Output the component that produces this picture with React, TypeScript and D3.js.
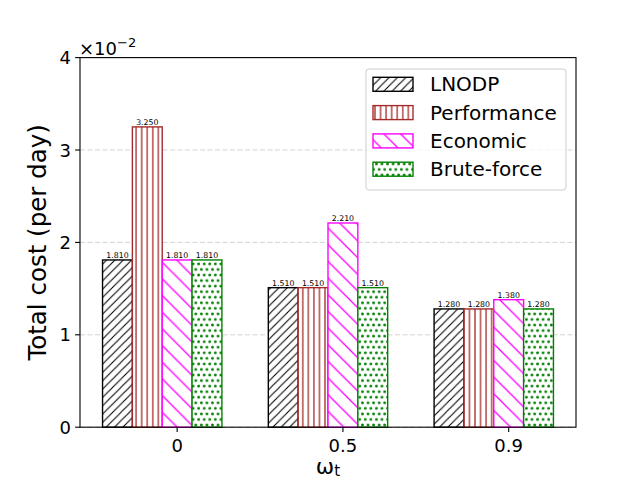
import { useEffect } from "react";
import * as d3 from "d3";

// omega_t settings, costs per day (plotted in units of 1e-2)
const groups = ["0", "0.5", "0.9"];
const seriesNames = ["LNODP", "Performance", "Economic", "Brute-force"];
const lnodp = [0.0181, 0.0151, 0.0128];
const performance = [0.0325, 0.0151, 0.0128];
const economic = [0.0181, 0.0221, 0.0138];
const bruteForce = [0.0181, 0.0151, 0.0128];
const yTicks = [0, 0.01, 0.02, 0.03, 0.04];

const seriesValues = [lnodp, performance, economic, bruteForce];
const colors = ["#000000", "#a52a2a", "#ff00ff", "#008000"];
const patternIds = ["hatch-lnodp", "hatch-perf", "hatch-eco", "hatch-brute"];

const W = 640;
const H = 480;
const margin = { left: 80, right: 64, top: 57.6, bottom: 52.8 };
const barW = 0.18;
const font = "DejaVu Sans, sans-serif";

// diagonal hatch tile paths (screen coords, y down)
const slash = (s: number) => `M0,${s} L${s},0 M-2,2 L2,-2 M${s - 2},${s + 2} L${s + 2},${s - 2}`;
const backslash = (s: number) => `M0,0 L${s},${s} M-2,${s - 2} L2,${s + 2} M${s - 2},-2 L${s + 2},2`;

function Patterns() {
  const s1 = 100 / 12; // '//'
  const s2 = 100 / 6; // '\'
  const s3 = 100 / 18; // '|||' and '...'
  return (
    <defs>
      <pattern id="hatch-lnodp" patternUnits="userSpaceOnUse" width={s1} height={s1}>
        <rect width={s1} height={s1} fill="#fff" />
        <path d={slash(s1)} stroke={colors[0]} strokeWidth={1.1} fill="none" />
      </pattern>
      <pattern id="hatch-perf" patternUnits="userSpaceOnUse" width={s3} height={s3}>
        <rect width={s3} height={s3} fill="#fff" />
        <line x1={s3 / 2} y1={0} x2={s3 / 2} y2={s3} stroke={colors[1]} strokeWidth={1.3} />
      </pattern>
      <pattern id="hatch-eco" patternUnits="userSpaceOnUse" width={s2} height={s2}>
        <rect width={s2} height={s2} fill="#fff" />
        <path d={backslash(s2)} stroke={colors[2]} strokeWidth={1.3} fill="none" />
      </pattern>
      <pattern id="hatch-brute" patternUnits="userSpaceOnUse" width={s3} height={s3 * 2}>
        <rect width={s3} height={s3 * 2} fill="#fff" />
        <circle cx={s3 / 4} cy={s3 / 2} r={1.4} fill={colors[3]} />
        <circle cx={(s3 * 3) / 4} cy={(s3 * 3) / 2} r={1.4} fill={colors[3]} />
      </pattern>
    </defs>
  );
}

export default function App() {
  useEffect(() => {
    document.body.style.margin = "0";
  }, []);

  const innerRight = W - margin.right;
  const innerBottom = H - margin.bottom;

  const lo = -2.5 * barW;
  const hi = groups.length - 1 + 1.5 * barW;
  const pad = (hi - lo) * 0.05;
  const x = d3.scaleLinear().domain([lo - pad, hi + pad]).range([margin.left, innerRight]);
  const y = d3.scaleLinear().domain([0, 0.04]).range([innerBottom, margin.top]);

  const legendX = 366;
  const legendY = 69;
  const rowH = 28.3;

  return (
    <svg width={W} height={H} style={{ display: "block" }} fontFamily={font}>
      <Patterns />
      <rect width={W} height={H} fill="#fff" />

      {/* grid */}
      {yTicks.map((t) => (
        <line key={"g" + t} x1={margin.left} x2={innerRight} y1={y(t)} y2={y(t)}
          stroke="#d3d3d3" strokeWidth={1} strokeDasharray="5,2.5" />
      ))}

      {/* bars */}
      {seriesValues.map((vals, j) =>
        vals.map((v, i) => {
          const cx = x(i + (j - 2) * barW);
          const x0 = x(i + (j - 2.5) * barW);
          const x1 = x(i + (j - 1.5) * barW);
          return (
            <g key={`b${j}-${i}`}>
              <rect x={x0} y={y(v)} width={x1 - x0} height={y(0) - y(v)}
                fill={`url(#${patternIds[j]})`} stroke={colors[j]} strokeWidth={1.39} />
              <text x={cx} y={y(v) - 2} textAnchor="middle" fontSize={7.8}>
                {(v * 100).toFixed(3)}
              </text>
            </g>
          );
        })
      )}

      {/* spines */}
      <rect x={margin.left} y={margin.top} width={innerRight - margin.left} height={innerBottom - margin.top}
        fill="none" stroke="#000" strokeWidth={1.1} />

      {/* y axis */}
      {yTicks.map((t) => (
        <g key={"y" + t}>
          <line x1={margin.left - 4.9} x2={margin.left} y1={y(t)} y2={y(t)} stroke="#000" strokeWidth={1.1} />
          <text x={margin.left - 9} y={y(t) + 6.5} textAnchor="end" fontSize={18}>
            {d3.format("d")(Math.round(t * 100))}
          </text>
        </g>
      ))}
      <text x={79} y={55} fontSize={18}>
        ×10<tspan fontSize={13} dy={-8}>−2</tspan>
      </text>

      {/* x axis */}
      {groups.map((g, i) => (
        <g key={"x" + g}>
          <line x1={x(i)} x2={x(i)} y1={innerBottom} y2={innerBottom + 4.9} stroke="#000" strokeWidth={1.1} />
          <text x={x(i)} y={452} textAnchor="middle" fontSize={18}>{g}</text>
        </g>
      ))}
      <text x={(margin.left + innerRight) / 2} y={474} textAnchor="middle" fontSize={22}>
        ω<tspan fontSize={15} dy={2}>t</tspan>
      </text>

      <text transform={`translate(46,${(margin.top + innerBottom) / 2}) rotate(-90)`} textAnchor="middle" fontSize={24.5}>
        Total cost (per day)
      </text>

      {/* legend */}
      <rect x={legendX} y={legendY} width={200} height={121} rx={3} fill="#fff" fillOpacity={0.8}
        stroke="#cccccc" strokeWidth={1} />
      {seriesNames.map((name, j) => {
        const cy = legendY + 15.3 + j * rowH;
        return (
          <g key={"l" + name}>
            <rect x={373} y={cy - 7} width={40} height={14} fill={`url(#${patternIds[j]})`}
              stroke={colors[j]} strokeWidth={1.39} />
            <text x={430} y={cy + 7} fontSize={20}>{name}</text>
          </g>
        );
      })}
    </svg>
  );
}
